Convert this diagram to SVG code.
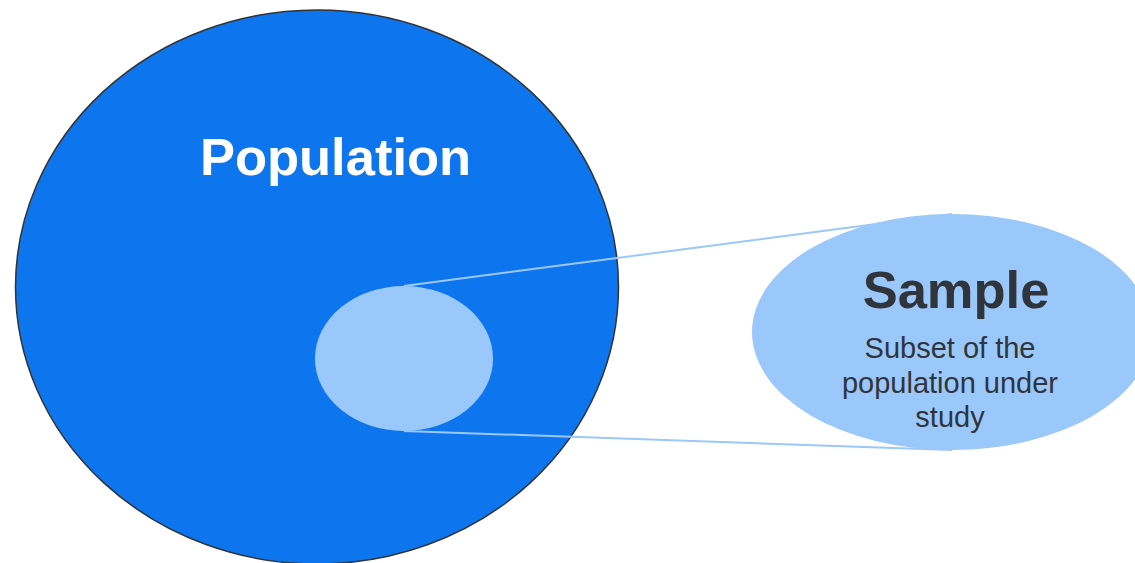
<svg xmlns="http://www.w3.org/2000/svg" width="1135" height="563" viewBox="0 0 1135 563">
<style>
.light{fill:#9bc8fa}
.conn{stroke:#9bc8fa;stroke-width:2;fill:none}
.title{font-family:"Liberation Sans",Arial,sans-serif;font-weight:bold;font-size:52.5px;text-anchor:middle}
.sub{font-family:"Liberation Sans",Arial,sans-serif;font-size:29px;fill:#30343b;text-anchor:middle}
</style>
<rect width="1135" height="563" fill="#ffffff"/>
<g id="population">
<ellipse cx="317" cy="287" rx="301.5" ry="277" fill="#0d76ef" stroke="#333333" stroke-width="1.5"/>
<text class="title" x="335.5" y="175" fill="#ffffff">Population</text>
</g>
<g id="sample-inner">
<ellipse class="light" cx="404" cy="358.5" rx="89" ry="72.5"/>
</g>
<g id="connectors">
<line class="conn" x1="404" y1="286" x2="952" y2="214"/>
<line class="conn" x1="404" y1="431" x2="952" y2="450"/>
</g>
<g id="sample">
<ellipse class="light" cx="952" cy="332" rx="200" ry="118"/>
<text class="title" x="956" y="308" fill="#30343b">Sample</text>
<text class="sub" x="950" y="358">Subset of the</text>
<text class="sub" x="950" y="393">population under</text>
<text class="sub" x="950" y="427">study</text>
</g>
</svg>
